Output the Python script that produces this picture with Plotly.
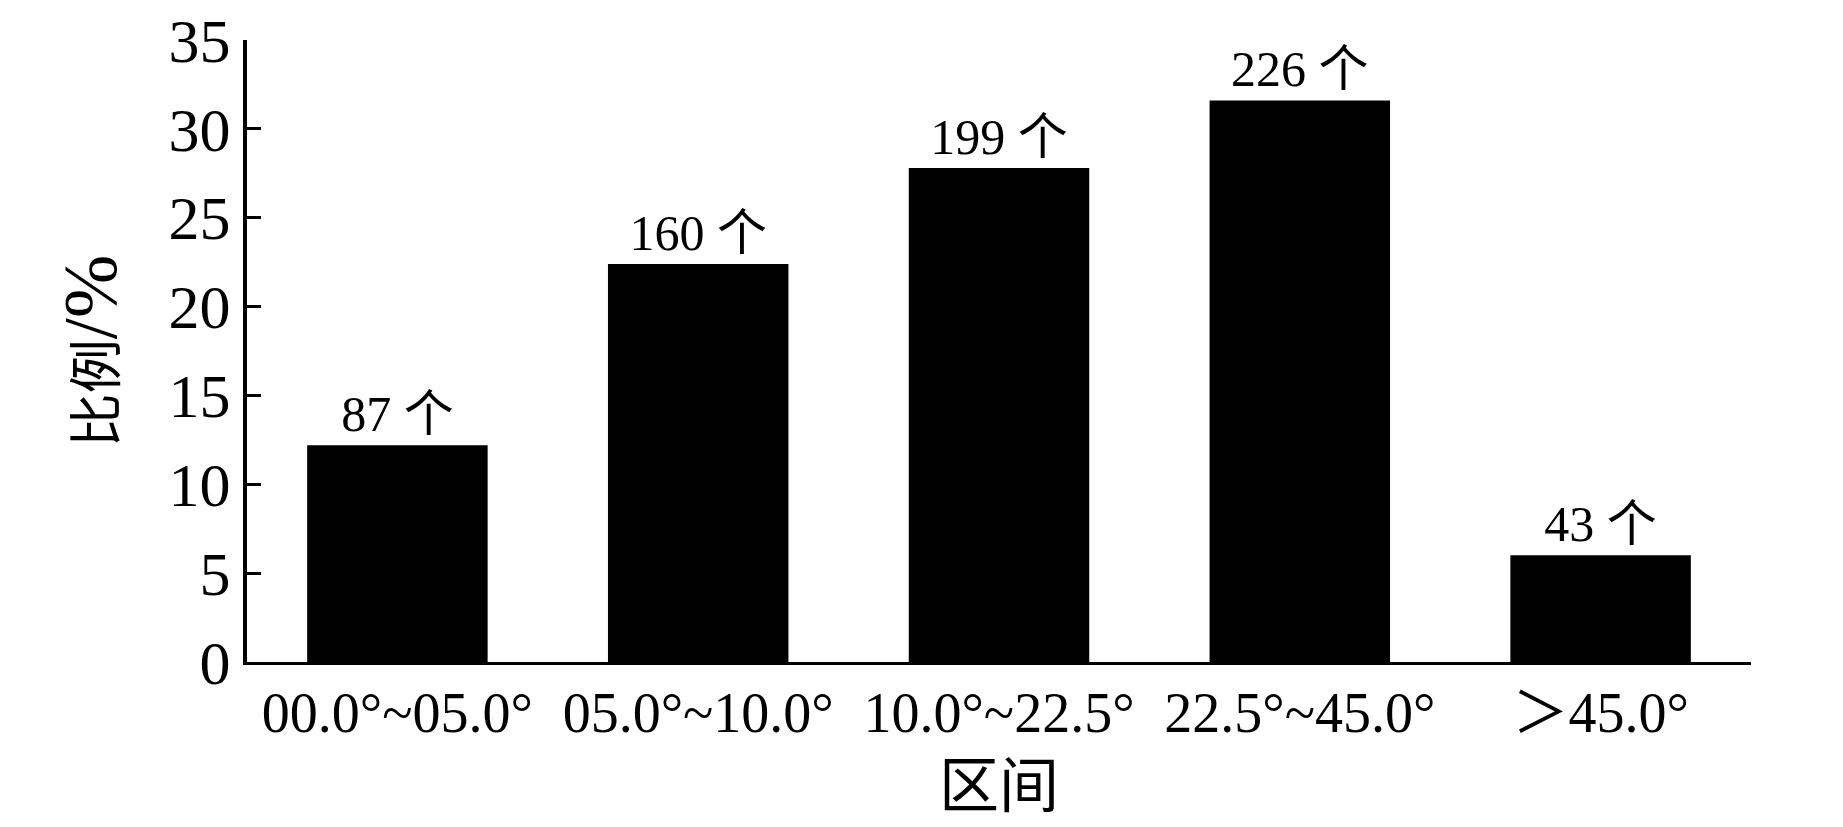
import plotly.graph_objects as go

# Data
categories = ["00.0°~05.0°", "05.0°~10.0°", "10.0°~22.5°", "22.5°~45.0°", "＞45.0°"]
ratio_pct = [12.2, 22.4, 27.8, 31.6, 6.0]
counts = [87, 160, 199, 226, 43]
y_ticks = [0, 5, 10, 15, 20, 25, 30, 35]

serif = "Liberation Serif, Times New Roman, Noto Sans CJK SC, serif"

fig = go.Figure()

fig.add_trace(go.Bar(
    x=categories,
    y=ratio_pct,
    text=[f"{c} 个" for c in counts],
    textposition="outside",
    cliponaxis=False,
    textfont=dict(family=serif, size=50, color="black"),
    marker=dict(color="black", line=dict(width=0)),
    width=0.6,
))

fig.update_layout(
    width=1843,
    height=827,
    margin=dict(l=239, r=100, t=32, b=173),
    paper_bgcolor="white",
    plot_bgcolor="white",
    showlegend=False,
    font=dict(family=serif, color="black"),
)

fig.update_xaxes(
    range=[-0.5, 4.5],
    showline=True,
    linecolor="black",
    linewidth=3,
    ticks="",
    showgrid=False,
    tickfont=dict(family=serif, size=56, color="black"),
    title=dict(text="区间", font=dict(family=serif, size=60, color="black"), standoff=22),
    automargin=False,
)

fig.update_yaxes(
    range=[0, 35],
    tickvals=y_ticks,
    showline=True,
    linecolor="black",
    linewidth=4,
    ticks="inside",
    ticklen=14,
    tickwidth=3,
    tickcolor="black",
    showgrid=False,
    zeroline=False,
    ticklabeloverflow="allow",
    tickfont=dict(family=serif, size=62, color="black"),
    title=dict(text="比例<span style='font-size:76px'>/%</span>",
               font=dict(family=serif, size=54, color="black"), standoff=36),
    automargin=False,
)

fig.write_html("out.html")
